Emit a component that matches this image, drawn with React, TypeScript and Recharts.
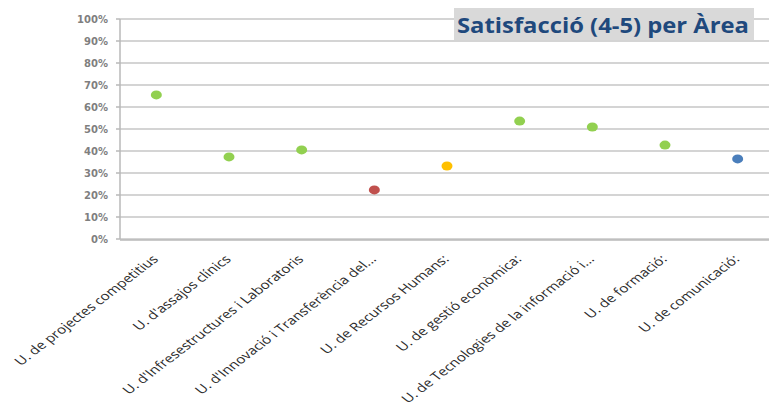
import { ComposedChart, Scatter, XAxis, YAxis, CartesianGrid, Cell } from 'recharts';

const AREAS = [
  'U. de projectes competitius',
  "U. d'assajos clínics",
  "U. d'Infresestructures i Laboratoris",
  "U. d'Innovació i Transferència del...",
  'U. de Recursos Humans:',
  'U. de gestió econòmica:',
  'U. de Tecnologies de la informació i...',
  'U. de formació:',
  'U. de comunicació:',
];
const SATISFACCIO = [65.5, 37.3, 40.5, 22.3, 33.2, 53.6, 50.9, 42.7, 36.4];
const Y_TICKS = [0, 10, 20, 30, 40, 50, 60, 70, 80, 90, 100];
const EDGE_TICKS = [0, 1, 2, 3, 4, 5, 6, 7, 8, 9];
const DOT_COLORS = ['#92d050', '#92d050', '#92d050', '#c0504d', '#ffc000', '#92d050', '#92d050', '#92d050', '#4a7ebb'];

const data = AREAS.map((area, i) => ({ area, value: SATISFACCIO[i] }));

const STRETCH = 1.3;

function AreaTick({ x, y, payload }: any) {
  return (
    <text
      transform={`translate(${x - 1}, ${y + 16}) scale(${STRETCH}, 1) rotate(-45)`}
      textAnchor="end"
      dy="0.35em"
      fontFamily="'Open Sans', sans-serif"
      fontSize={11.8}
      fill="#2b2b2b"
    >
      {payload.value}
    </text>
  );
}

function Dot({ cx, cy, fill }: any) {
  return <ellipse cx={cx} cy={cy} rx={5.5} ry={4.5} fill={fill} />;
}

export default function App() {
  return (
    <div style={{ position: 'absolute', left: 0, top: 0, width: 769, height: 410, overflow: 'hidden', background: '#fff' }}>
      <ComposedChart width={775} height={410} data={data} margin={{ top: 19, right: 1, left: 0, bottom: 0 }}>
        <CartesianGrid vertical={false} stroke="#c6c6c6" strokeWidth={1.5} />
        <XAxis
          xAxisId="cat"
          dataKey="area"
          scale="band"
          interval={0}
          tick={<AreaTick />}
          tickLine={false}
          axisLine={false}
          tickSize={0}
          height={1}
        />
        <XAxis
          xAxisId="edges"
          type="number"
          dataKey={() => 0}
          domain={[0, 9]}
          ticks={EDGE_TICKS}
          tick={false}
          tickSize={4}
          height={170}
          stroke="#b8b8b8"
          strokeWidth={1.5}
        />
        <YAxis
          domain={[0, 100]}
          ticks={Y_TICKS}
          interval={0}
          tickFormatter={(v) => `${v}%`}
          width={120}
          tickSize={4}
          tickMargin={8}
          stroke="#b8b8b8"
          strokeWidth={1.5}
          tick={{ fill: '#7f7f7f', fontSize: 10, fontWeight: 'bold', fontFamily: "'DejaVu Sans', sans-serif" }}
        />
        <Scatter xAxisId="cat" dataKey="value" shape={<Dot />} isAnimationActive={false}>
          {data.map((_, i) => (
            <Cell key={i} fill={DOT_COLORS[i]} />
          ))}
        </Scatter>
      </ComposedChart>
      <div style={{ position: 'absolute', left: 454, top: 8, width: 300, height: 32, background: '#d9d9d9' }}>
        <svg width={300} height={32}>
          <text
            x={3}
            y={25}
            textLength={292}
            lengthAdjust="spacingAndGlyphs"
            fontFamily="'Open Sans', sans-serif"
            fontWeight="bold"
            fontSize={21}
            fill="#1f497d"
          >
            Satisfacció (4-5) per Àrea
          </text>
        </svg>
      </div>
    </div>
  );
}
